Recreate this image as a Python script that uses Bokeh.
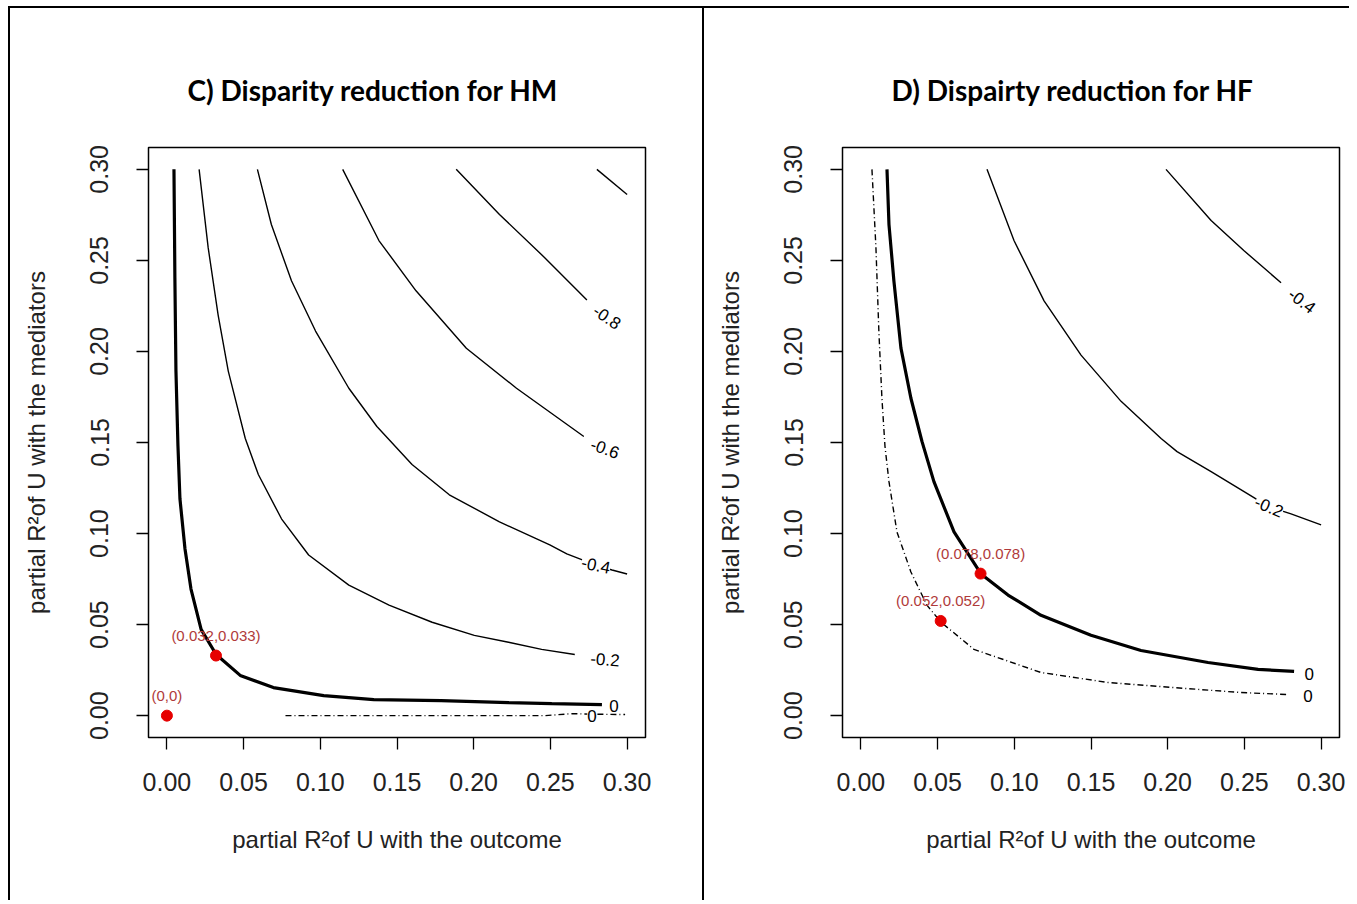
from bokeh.plotting import figure
from bokeh.layouts import row
from bokeh.models import Range1d, FixedTicker, PrintfTickFormatter, Title
from bokeh.embed import file_html
from bokeh.resources import INLINE
from bokeh.core.properties import value

# ---------------- data ----------------
ticks = [0.00, 0.05, 0.10, 0.15, 0.20, 0.25, 0.30]

# Panel C) contours
c_zero_x = [0.0046, 0.0052, 0.0059, 0.0072, 0.0085, 0.0118, 0.0157, 0.0223, 0.0321, 0.0478, 0.0694, 0.1022, 0.1349, 0.1788, 0.2227, 0.2509, 0.2836]
c_zero_y = [0.300, 0.2404, 0.1892, 0.1483, 0.1191, 0.0915, 0.0695, 0.0474, 0.0336, 0.0221, 0.0154, 0.0110, 0.0088, 0.0083, 0.0072, 0.0066, 0.0061]
c_m02_x = [0.0210, 0.0269, 0.0334, 0.0400, 0.0511, 0.0596, 0.0747, 0.0924, 0.1186, 0.1448, 0.1729, 0.2004, 0.2227, 0.2443, 0.2659]
c_m02_y = [0.300, 0.2570, 0.2200, 0.1892, 0.1522, 0.1324, 0.1081, 0.0882, 0.0717, 0.0607, 0.0513, 0.0441, 0.0403, 0.0364, 0.0336]
c_m04_x = [0.0590, 0.0681, 0.0812, 0.0969, 0.1186, 0.1369, 0.1598, 0.1841, 0.2168, 0.2496, 0.2607, 0.2797, 0.2902, 0.3000]
c_m04_y = [0.300, 0.2697, 0.2388, 0.2112, 0.1798, 0.1588, 0.1379, 0.1213, 0.1064, 0.0938, 0.0888, 0.0827, 0.0800, 0.0778]
c_m06_x = [0.1146, 0.1382, 0.1624, 0.1952, 0.2279, 0.2718]
c_m06_y = [0.300, 0.2609, 0.2333, 0.2018, 0.1798, 0.1533]
c_m08_x = [0.1886, 0.2168, 0.2463, 0.2738]
c_m08_y = [0.300, 0.2752, 0.2515, 0.2283]
c_m10_x = [0.2803, 0.3000]
c_m10_y = [0.300, 0.2862]
c_dash_x = [0.0773, 0.2463, 0.2640, 0.2771, 0.2987]
c_dash_y = [0.0000, 0.0000, 0.0011, 0.0008, 0.0006]

c_label_text = ["0", "-0.2", "-0.4", "-0.6", "-0.8", "0"]
c_label_x = [0.2915, 0.2856, 0.2797, 0.2856, 0.2869, 0.2771]
c_label_y = [0.0055, 0.0309, 0.0827, 0.1467, 0.2189, 0.0000]
c_label_angle = [0.0, -0.08, -0.2, -0.35, -0.6, 0.0]

c_pts_x = [0.000, 0.032]
c_pts_y = [0.000, 0.033]
c_pts_text = ["(0,0)", "(0.032,0.033)"]

# Panel D) contours
d_zero_x = [0.0170, 0.0183, 0.0215, 0.0261, 0.0326, 0.0398, 0.0476, 0.0607, 0.0783, 0.0959, 0.1174, 0.1500, 0.1826, 0.2263, 0.2589, 0.2824]
d_zero_y = [0.300, 0.2697, 0.2388, 0.2018, 0.1743, 0.1506, 0.1285, 0.1009, 0.0778, 0.0662, 0.0551, 0.0441, 0.0358, 0.0292, 0.0254, 0.0243]
d_dash_x = [0.0072, 0.0098, 0.0117, 0.0137, 0.0157, 0.0183, 0.0235, 0.0326, 0.0430, 0.0522, 0.0737, 0.1174, 0.1611, 0.2041, 0.2478, 0.2785]
d_dash_y = [0.300, 0.2570, 0.2112, 0.1743, 0.1478, 0.1285, 0.1009, 0.0789, 0.0607, 0.0513, 0.0364, 0.0237, 0.0182, 0.0154, 0.0127, 0.0116]
d_m02_x = [0.0822, 0.0998, 0.1194, 0.1435, 0.1696, 0.1957, 0.2061, 0.2283, 0.2498, 0.2661, 0.2804, 0.3000]
d_m02_y = [0.300, 0.2609, 0.2278, 0.1980, 0.1726, 0.1522, 0.1450, 0.1340, 0.1230, 0.1147, 0.1108, 0.1048]
d_m04_x = [0.1989, 0.2283, 0.2498, 0.2739]
d_m04_y = [0.300, 0.2719, 0.2553, 0.2377]

d_label_text = ["0", "0", "-0.2", "-0.4"]
d_label_x = [0.2922, 0.2915, 0.2661, 0.2876]
d_label_y = [0.0226, 0.0110, 0.1147, 0.2278]
d_label_angle = [0.0, 0.0, -0.4, -0.65]

d_pts_x = [0.078, 0.052]
d_pts_y = [0.078, 0.052]
d_pts_text = ["(0.078,0.078)", "(0.052,0.052)"]

FONT = "Liberation Sans"


def make_panel(title, width, mbl, mbr, title_offset, solid, thick, dashed,
               lab_x, lab_y, lab_t, lab_a, px, py, pt, styles):
    p = figure(width=width, height=894, output_backend="svg", toolbar_location=None,
               x_range=Range1d(-0.012, 0.312), y_range=Range1d(-0.012, 0.312),
               min_border_left=mbl, min_border_right=mbr, min_border_top=139,
               min_border_bottom=165, background_fill_color="white",
               border_fill_color="white", outline_line_color="black",
               outline_line_width=1.5)
    p.styles = styles
    p.title = Title(text=title, align="left", offset=title_offset,
                    text_font="Lato", text_font_size="28px",
                    text_font_style="bold", standoff=82, text_color="black")
    p.xgrid.visible = False
    p.ygrid.visible = False
    for ax in (p.xaxis[0], p.yaxis[0]):
        ax.ticker = FixedTicker(ticks=ticks)
        ax.formatter = PrintfTickFormatter(format="%.2f")
        ax.axis_line_color = None
        ax.major_tick_out = 12
        ax.major_tick_in = 0
        ax.major_tick_line_width = 1.3
        ax.minor_tick_line_color = None
        ax.major_label_text_font = FONT
        ax.major_label_text_font_size = "25px"
        ax.major_label_text_color = "#222222"
        ax.axis_label_text_font = FONT
        ax.axis_label_text_font_size = "24px"
        ax.axis_label_text_font_style = "normal"
        ax.axis_label_text_color = "#222222"
    p.xaxis.axis_label = "partial R²of U with the outcome"
    p.yaxis.axis_label = "partial R²of U with the mediators"
    p.yaxis.major_label_orientation = "vertical"
    p.xaxis.major_label_standoff = 23
    p.xaxis.axis_label_standoff = 32
    p.yaxis.major_label_standoff = 28
    p.yaxis.axis_label_standoff = 38

    for (x, y) in solid:
        p.line(x, y, line_color="black", line_width=1.4)
    for (x, y) in thick:
        p.line(x, y, line_color="black", line_width=3.2)
    for (x, y) in dashed:
        p.line(x, y, line_color="black", line_width=1.4, line_dash="6 3 1 3")

    p.text(x=lab_x, y=lab_y, text=lab_t, angle=lab_a, text_font=value(FONT),
           text_font_size="17px", text_align="center", text_baseline="middle",
           text_color="black", background_fill_color="white")

    p.scatter(px, py, size=11, fill_color="#e60000", line_color="#e60000")
    p.text(x=px, y=py, text=pt, y_offset=-20, text_font=value(FONT),
           text_font_size="15px", text_align="center", text_baseline="middle",
           text_color="#b03a3a")
    return p


pc = make_panel("C) Disparity reduction for HM", 695, 138, 60, 39,
                [(c_m02_x, c_m02_y), (c_m04_x, c_m04_y), (c_m06_x, c_m06_y),
                 (c_m08_x, c_m08_y), (c_m10_x, c_m10_y)],
                [(c_zero_x, c_zero_y)],
                [(c_dash_x, c_dash_y)],
                c_label_x, c_label_y, c_label_text, c_label_angle,
                c_pts_x, c_pts_y, c_pts_text,
                {"border-top": "2px solid black", "border-left": "2px solid black",
                 "border-right": "1px solid black", "box-sizing": "border-box"})

pd_ = make_panel("D) Dispairty reduction for HF", 646, 138, 11, 49,
                 [(d_m02_x, d_m02_y), (d_m04_x, d_m04_y)],
                 [(d_zero_x, d_zero_y)],
                 [(d_dash_x, d_dash_y)],
                 d_label_x, d_label_y, d_label_text, d_label_angle,
                 d_pts_x, d_pts_y, d_pts_text,
                 {"border-top": "2px solid black", "border-left": "1px solid black",
                  "box-sizing": "border-box"})

layout = row(pc, pd_, margin=(6, 0, 0, 8))
open("out.html", "w").write(file_html(layout, INLINE))
